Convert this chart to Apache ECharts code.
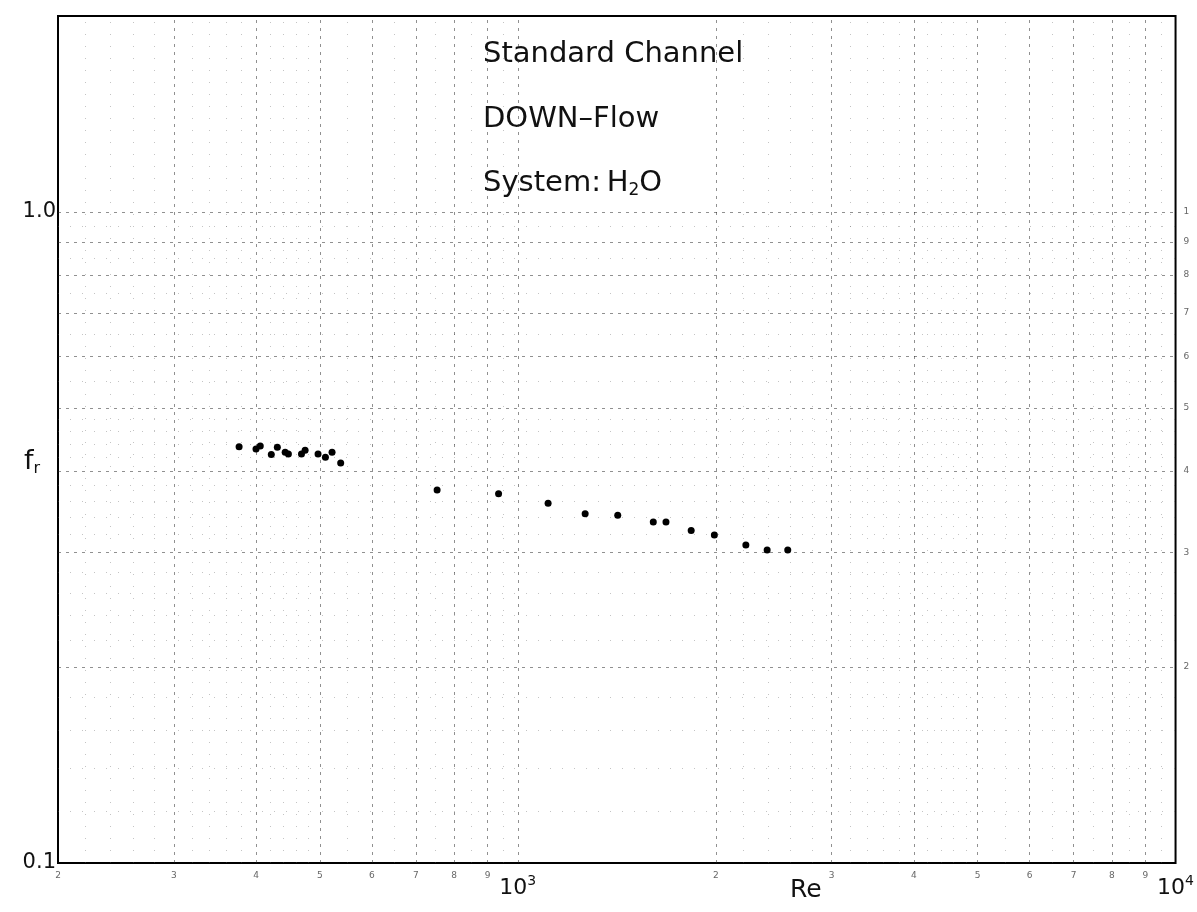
<!DOCTYPE html>
<html>
<head>
<meta charset="utf-8">
<title>Standard Channel DOWN-Flow</title>
<script src="https://cdn.jsdelivr.net/npm/echarts@6/dist/echarts.min.js"></script>
<style>
  html, body { margin: 0; padding: 0; background: #fff; }
  #chart-box { width: 1197px; height: 912px; }
</style>
</head>
<body>
<div id="chart-box"></div>
<script>
// measured points (Re, f_r)
const reValues = [377, 400, 406, 422, 431, 443, 448, 469, 475, 497, 510, 522, 538,
  754, 935, 1112, 1266, 1419, 1607, 1680, 1835, 1990, 2222, 2394, 2573];
const frValues = [0.436, 0.4325, 0.437, 0.424, 0.435, 0.4275, 0.425, 0.425, 0.4305, 0.425, 0.420, 0.4275, 0.4115,
  0.374, 0.369, 0.357, 0.344, 0.342, 0.334, 0.334, 0.324, 0.319, 0.308, 0.3026, 0.3026];

// tick labels
const xTickValues = [200, 300, 400, 500, 600, 700, 800, 900, 1000,
  2000, 3000, 4000, 5000, 6000, 7000, 8000, 9000, 10000];
const yLeftTicks = [0.1, 1];
const yRightTicks = [0.2, 0.3, 0.4, 0.5, 0.6, 0.7, 0.8, 0.9, 1];

// log paper rulings
const xMajorLines = [300, 400, 500, 600, 700, 800, 900, 1000, 2000, 3000, 4000, 5000, 6000, 7000, 8000, 9000];
const yMajorLines = [0.2, 0.3, 0.4, 0.5, 0.6, 0.7, 0.8, 0.9, 1];
const xMinorLines = [];
const yMinorLines = [];
[100, 1000].forEach(function (d) {
  for (let k = 2.2; k < 5; k += 0.2) xMinorLines.push(+(k * d).toFixed(3));
  for (let k = 5.5; k < 10; k += 0.5) xMinorLines.push(+(k * d).toFixed(3));
});
for (let k = 1.2; k < 5; k += 0.2) yMinorLines.push(+(k / 10).toFixed(4));
for (let k = 5.5; k < 10; k += 0.5) yMinorLines.push(+(k / 10).toFixed(4));

const chartObj = echarts.init(document.getElementById('chart-box'));

const majorStyle = { color: '#222', width: 1, type: [3, 5], opacity: 0.5 };
const minorStyle = { color: '#555', width: 1, type: [1, 11], opacity: 0.35 };

const gridLines = []
  .concat(xMinorLines.filter(v => xMajorLines.indexOf(v) < 0).map(v => ({ xAxis: v, lineStyle: minorStyle })))
  .concat(yMinorLines.filter(v => yMajorLines.indexOf(v) < 0).map(v => ({ yAxis: v, lineStyle: minorStyle })))
  .concat(xMajorLines.map(v => ({ xAxis: v, lineStyle: majorStyle })))
  .concat(yMajorLines.map(v => ({ yAxis: v, lineStyle: majorStyle })));

function leadDigit(v) {
  const p = Math.floor(Math.log10(v) + 1e-9);
  return { p: p, d: Math.round(v / Math.pow(10, p)) };
}

const fontFam = 'DejaVu Sans';

const option = {
  animation: false,
  textStyle: { fontFamily: fontFam },
  grid: {
    left: 58,
    right: 17,
    top: 16,
    bottom: 49,
    show: true,
    borderColor: '#000',
    borderWidth: 2
  },
  xAxis: {
    type: 'log',
    logBase: 10,
    min: 200,
    max: 10000,
    axisLine: { show: false },
    axisTick: { show: false },
    splitLine: { show: false },
    axisLabel: {
      customValues: xTickValues,
      margin: 8,
      formatter: function (v) {
        const t = leadDigit(v);
        if (t.d === 1) return '{b|10}{s|' + t.p + '}';
        return '{d|' + t.d + '}';
      },
      rich: {
        d: { fontSize: 9, color: '#666', fontFamily: fontFam },
        b: { fontSize: 22, color: '#111', fontFamily: fontFam, padding: [6, 0, 0, 0] },
        s: { fontSize: 14, color: '#111', fontFamily: fontFam, padding: [0, 0, 8, 0] }
      }
    }
  },
  yAxis: [{
    type: 'log',
    logBase: 10,
    min: 0.1,
    max: 2,
    axisLine: { show: false },
    axisTick: { show: false },
    splitLine: { show: false },
    axisLabel: {
      customValues: yLeftTicks,
      margin: 2,
      fontSize: 21,
      color: '#111',
      formatter: function (v) { return v >= 0.99 ? '1.0' : '0.1'; }
    }
  }, {
    type: 'log',
    logBase: 10,
    min: 0.1,
    max: 2,
    position: 'right',
    axisLine: { show: false },
    axisTick: { show: false },
    splitLine: { show: false },
    axisLabel: {
      customValues: yRightTicks,
      margin: 8,
      fontSize: 9,
      color: '#666',
      formatter: function (v) { return String(leadDigit(v).d); }
    }
  }],
  graphic: [
    { type: 'text', left: 483, top: 40, style: { text: 'Standard Channel', font: '29px "DejaVu Sans"', fill: '#111' } },
    { type: 'text', left: 483, top: 105, style: { text: 'DOWN\u2013Flow', font: '29px "DejaVu Sans"', fill: '#111' } },
    {
      type: 'text', left: 483, top: 169,
      style: {
        text: '{n|System:\u2009H}{sub|2}{n|O}',
        rich: {
          n: { fontSize: 29, fontFamily: fontFam, fill: '#111' },
          sub: { fontSize: 17, fontFamily: fontFam, fill: '#111', padding: [15, 0, 0, 0] }
        }
      }
    },
    {
      type: 'text', left: 24, top: 448,
      style: {
        text: '{n|f}{sub|r}',
        rich: {
          n: { fontSize: 27, fontFamily: fontFam, fill: '#111' },
          sub: { fontSize: 16, fontFamily: fontFam, fill: '#111', padding: [14, 0, 0, 0] }
        }
      }
    },
    { type: 'text', left: 790, top: 878, style: { text: 'Re', font: '25px "DejaVu Sans"', fill: '#111' } }
  ],
  series: [{
    type: 'scatter',
    silent: true,
    z: 1,
    data: [],
    markLine: {
      silent: true,
      symbol: ['none', 'none'],
      label: { show: false },
      data: gridLines
    }
  }, {
    type: 'scatter',
    z: 5,
    symbol: 'circle',
    symbolSize: 7,
    itemStyle: { color: '#000', opacity: 1 },
    data: reValues.map((re, i) => [re, frValues[i]])
  }]
};

chartObj.setOption(option);
</script>
</body>
</html>
